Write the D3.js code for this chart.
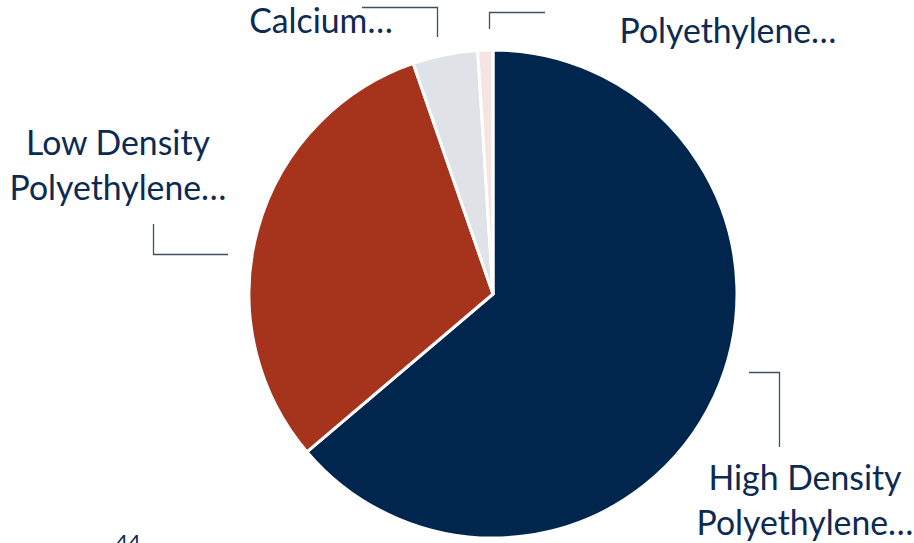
<!DOCTYPE html>
<html>
<head>
<meta charset="utf-8">
<script src="https://cdn.jsdelivr.net/npm/d3@7"></script>
<style>
  html, body { margin: 0; padding: 0; background: #ffffff; }
  svg { display: block; }
  text { font-family: Lato, "Open Sans", sans-serif; fill: #0c2a52; }
</style>
</head>
<body>
<svg id="chart" width="914" height="543"></svg>
<script>
// Share of each material (percent), clockwise from 12 o'clock
const categories = ["High Density Polyethylene…", "Low Density Polyethylene…", "Calcium…", "Polyethylene…"];
const labelLines = [["High Density", "Polyethylene…"], ["Low Density", "Polyethylene…"], ["Calcium…"], ["Polyethylene…"]];
const values = [63.8, 30.9, 4.3, 1.0];
const colors = ["#00264d", "#a6331c", "#dfe3e8", "#f4e5e2"];
const pageNumber = "44";

const svg = d3.select("#chart");
const cx = 493, cy = 294, radius = 244;

const pie = d3.pie().sort(null).value(d => d)(values);
const arc = d3.arc().innerRadius(0).outerRadius(radius);

const g = svg.append("g").attr("transform", `translate(${cx},${cy})`);
g.selectAll("path.slice")
  .data(pie)
  .join("path")
  .attr("class", "slice")
  .attr("d", arc)
  .attr("fill", (d, i) => colors[i])
  .attr("stroke", "#ffffff")
  .attr("stroke-width", 3)
  .attr("stroke-linejoin", "round");

// Elbow leader lines, positioned relative to the pie centre
const leaders = [
  [[256, 78.5], [286.5, 78.5], [286.5, 153]],
  [[-339.5, -70], [-339.5, -39.5], [-265, -39.5]],
  [[-131, -286.5], [-55.5, -286.5], [-55.5, -257]],
  [[-3.5, -265], [-3.5, -281.5], [52, -281.5]]
];
g.selectAll("path.leader")
  .data(leaders)
  .join("path")
  .attr("class", "leader")
  .attr("d", d => d3.line()(d))
  .attr("fill", "none")
  .attr("stroke", "#3f4f68")
  .attr("stroke-width", 1.3);

// Pick a label size so the long word spans about 217px
const probe = svg.append("text").attr("font-size", 30).text("Polyethylene…");
const fontSize = 30 * 217 / probe.node().getComputedTextLength();
probe.remove();

// Category labels (centre x, first baseline), relative to the pie centre
const labelPos = [[312, 196], [-375, -139], [-172, -261], [235, -251]];
const lineGap = 45;
labelLines.forEach((lines, i) => {
  const t = g.append("text")
    .attr("text-anchor", "middle")
    .attr("font-size", fontSize);
  lines.forEach((ln, j) => {
    t.append("tspan")
      .attr("x", labelPos[i][0])
      .attr("y", labelPos[i][1] + j * lineGap)
      .text(ln);
  });
});

svg.append("text")
  .attr("x", 128)
  .attr("y", 550)
  .attr("text-anchor", "middle")
  .attr("font-size", 22)
  .text(pageNumber);
</script>
</body>
</html>
